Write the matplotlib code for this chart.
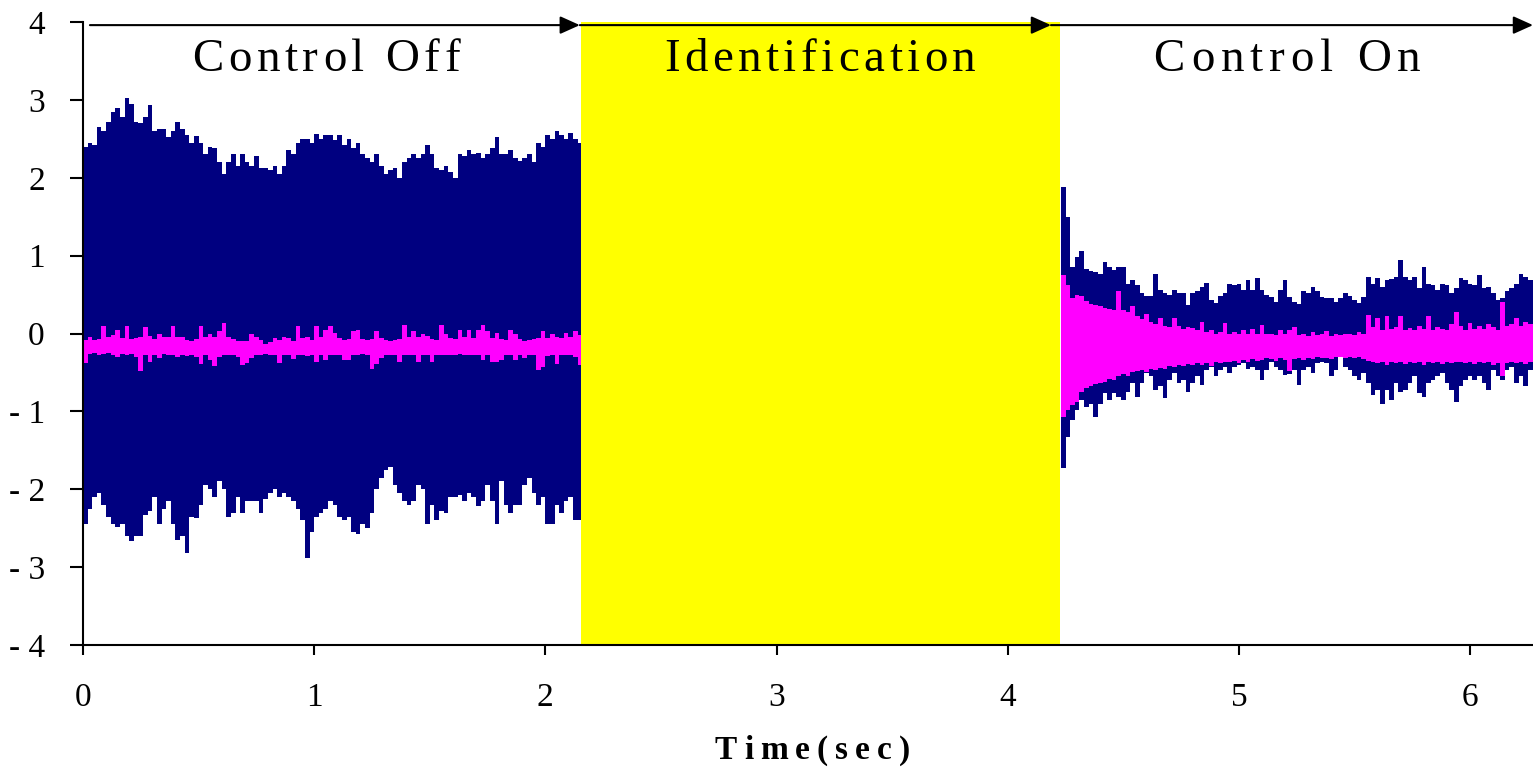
import numpy as np
import matplotlib
matplotlib.use("Agg")
import matplotlib.pyplot as plt
from matplotlib.font_manager import FontProperties, findfont, get_font

plt.rcParams['font.family'] = ['Liberation Serif', 'DejaVu Serif']

# ---------------- data ----------------
SECTION_LABELS = ["Control Off", "Identification", "Control On"]
X_LABEL = "Time(sec)"
X_TICKS = [0, 1, 2, 3, 4, 5, 6]
Y_TICKS = [-4, -3, -2, -1, 0, 1, 2, 3, 4]
Y_TICK_LABELS = ["- 4", "- 3", "- 2", "- 1", "0", "1", "2", "3", "4"]

ID_START = 2.154      # start of identification phase (s)
ID_END = 4.226        # end of identification phase (s)
T_END = 6.272         # end of record (s)
SAMPLE_STEP = 0.02    # envelope sampling interval (s)
OFF_START = 0.0
ON_START = 4.23

# Control-off phase envelopes (t = 0.00 ... 2.14)
blue_off_upper = [
    2.4, 2.45, 2.42, 2.65, 2.6, 2.72, 2.85, 2.9, 2.78, 3.03,
    2.95, 2.72, 2.7, 2.78, 2.93, 2.6, 2.63, 2.63, 2.52, 2.6,
    2.72, 2.62, 2.55, 2.45, 2.53, 2.45, 2.3, 2.4, 2.38, 2.2,
    2.05, 2.2, 2.3, 2.15, 2.3, 2.2, 2.15, 2.28, 2.12, 2.12,
    2.1, 2.15, 2.05, 2.15, 2.35, 2.3, 2.45, 2.5, 2.5, 2.45,
    2.56, 2.5, 2.55, 2.55,
    2.48, 2.55, 2.42, 2.5, 2.38, 2.45, 2.3, 2.25, 2.2, 2.3,
    2.15, 2.05, 2.1, 2.12, 2.0, 2.2, 2.25, 2.3, 2.25, 2.3,
    2.42, 2.3, 2.12, 2.1, 2.15, 2.08, 2.0, 2.3, 2.28, 2.35,
    2.3, 2.32, 2.25, 2.3, 2.38, 2.52, 2.3, 2.3, 2.35, 2.25,
    2.22, 2.25, 2.3, 2.2, 2.45, 2.4, 2.55, 2.5, 2.6, 2.55,
    2.5, 2.58, 2.5, 2.45]
blue_off_lower = [
    -2.45, -2.25, -2.1, -2.05, -2.2, -2.35, -2.45, -2.48, -2.45, -2.6,
    -2.67, -2.6, -2.6, -2.33, -2.28, -2.1, -2.45, -2.25, -2.15, -2.45,
    -2.65, -2.6, -2.82, -2.35, -2.37, -2.2, -1.95, -2.0, -2.1, -1.9,
    -2.0, -2.35, -2.3, -2.1, -2.3, -2.15, -2.15, -2.15, -2.3, -2.12,
    -2.05, -2.0, -2.1, -2.05, -2.1, -2.15, -2.25, -2.4, -2.88, -2.55,
    -2.35, -2.3, -2.25, -2.15,
    -2.2, -2.35, -2.4, -2.35, -2.55, -2.57, -2.45, -2.5, -2.3, -2.0,
    -1.85, -1.75, -1.72, -1.95, -2.05, -2.15, -2.2, -2.15, -1.95, -2.0,
    -2.45, -2.2, -2.4, -2.28, -2.3, -2.1, -2.1, -2.07, -2.15, -2.05,
    -2.1, -2.22, -2.15, -1.95, -2.15, -2.45, -1.9, -2.2, -2.3, -2.2,
    -2.2, -1.95, -1.85, -2.05, -2.2, -2.1, -2.45, -2.45, -2.2, -2.3,
    -2.15, -2.1, -2.4, -2.4]
pink_off_upper = [
    -0.08, -0.05, -0.08, -0.07, 0.09, -0.04, -0.02, 0.05, -0.06, 0.09,
    -0.07, -0.06, -0.05, 0.08, -0.03, -0.07, 0.0, -0.05, -0.04, 0.1,
    -0.05, -0.04, -0.08, -0.09, -0.07, 0.09, -0.04, 0.0, -0.05, 0.03,
    0.14, -0.04, -0.07, -0.09, -0.1, -0.09, 0.0, -0.05, -0.08, -0.13,
    -0.11, -0.06, -0.08, -0.04, -0.06, -0.09, 0.09, -0.06, -0.05, -0.08,
    0.09, -0.05, 0.05, 0.09,
    0.01, -0.06, -0.08, -0.07, 0.03, 0.05, -0.07, -0.08, -0.07, 0.03,
    -0.06, -0.08, -0.09, -0.08, -0.07, 0.11, -0.05, 0.03, -0.04, 0.0,
    -0.03, -0.07, -0.08, 0.11, 0.0, -0.06, -0.07, 0.05, -0.05, 0.05,
    -0.06, 0.05, 0.11, 0.03, -0.06, 0.01, -0.07, -0.08, 0.05, 0.0,
    -0.07, -0.09, -0.08, -0.07, -0.06, 0.03, -0.06, 0.0, -0.05, -0.06,
    0.01, -0.05, 0.03, -0.02]
pink_off_lower = [
    -0.38, -0.26, -0.25, -0.27, -0.26, -0.25, -0.27, -0.3, -0.26, -0.27,
    -0.26, -0.3, -0.48, -0.28, -0.36, -0.27, -0.32, -0.26, -0.27, -0.28,
    -0.3, -0.28, -0.29, -0.27, -0.3, -0.39, -0.28, -0.34, -0.42, -0.3,
    -0.27, -0.28, -0.27, -0.3, -0.4, -0.38, -0.32, -0.28, -0.27, -0.26,
    -0.28, -0.27, -0.38, -0.28, -0.27, -0.33, -0.28, -0.27, -0.29, -0.27,
    -0.36, -0.28, -0.34, -0.28,
    -0.27, -0.28, -0.34, -0.34, -0.28, -0.27, -0.26, -0.28, -0.45, -0.39,
    -0.32, -0.28, -0.27, -0.28, -0.36, -0.28, -0.27, -0.28, -0.36, -0.28,
    -0.27, -0.36, -0.28, -0.27, -0.28, -0.27, -0.28, -0.26, -0.27, -0.28,
    -0.27, -0.28, -0.34, -0.28, -0.37, -0.36, -0.34, -0.28, -0.27, -0.34,
    -0.28, -0.32, -0.27, -0.28, -0.47, -0.43, -0.29, -0.28, -0.39, -0.28,
    -0.27, -0.28, -0.3, -0.41]

# Control-on phase envelopes (t = 4.23 ... 6.25)
blue_on_upper = [
    1.88, 1.5, 0.85, 0.98, 1.06, 0.83, 0.8, 0.79, 0.77, 0.92,
    0.86, 0.82, 0.86, 0.86, 0.64, 0.69, 0.62, 0.52, 0.48, 0.48,
    0.77, 0.56, 0.52, 0.5, 0.56, 0.52, 0.52, 0.37, 0.52, 0.54,
    0.6, 0.65, 0.43, 0.39, 0.48, 0.52, 0.64, 0.62, 0.64, 0.56,
    0.69, 0.56, 0.71, 0.56, 0.5, 0.47, 0.4, 0.56, 0.69, 0.47,
    0.4, 0.38, 0.54, 0.52, 0.6, 0.54, 0.47, 0.45, 0.45, 0.4,
    0.45, 0.52, 0.48, 0.43, 0.39, 0.47, 0.73, 0.63, 0.71, 0.6,
    0.69, 0.7, 0.73, 0.95, 0.73, 0.69, 0.73, 0.58, 0.85, 0.64,
    0.62, 0.56, 0.64, 0.62, 0.52, 0.58, 0.71, 0.69, 0.64, 0.62,
    0.75, 0.58, 0.6, 0.52, 0.43, 0.46, 0.54, 0.58, 0.64, 0.77,
    0.73, 0.69]
blue_on_lower = [
    -1.73, -1.33, -1.11, -0.98, -0.86, -0.94, -0.9, -1.07, -0.9, -0.77,
    -0.86, -0.77, -0.81, -0.86, -0.75, -0.64, -0.81, -0.64, -0.51, -0.55,
    -0.73, -0.68, -0.83, -0.6, -0.51, -0.64, -0.6, -0.75, -0.64, -0.55,
    -0.66, -0.47, -0.43, -0.55, -0.47, -0.43, -0.51, -0.43, -0.41, -0.38,
    -0.45, -0.43, -0.47, -0.6, -0.47, -0.36, -0.43, -0.47, -0.53, -0.52,
    -0.47, -0.66, -0.47, -0.43, -0.51, -0.38, -0.36, -0.38, -0.55, -0.47,
    -0.3, -0.43, -0.47, -0.55, -0.6, -0.51, -0.64, -0.79, -0.73, -0.9,
    -0.73, -0.86, -0.64, -0.75, -0.73, -0.64, -0.55, -0.77, -0.81, -0.64,
    -0.6, -0.55, -0.51, -0.64, -0.73, -0.88, -0.68, -0.6, -0.55, -0.6,
    -0.55, -0.64, -0.73, -0.47, -0.55, -0.6, -0.47, -0.43, -0.64, -0.55,
    -0.68, -0.47]
pink_on_upper = [
    0.75, 0.62, 0.45, 0.5, 0.48, 0.42, 0.38, 0.36, 0.35, 0.33,
    0.32, 0.3, 0.54, 0.3, 0.27, 0.35, 0.22, 0.18, 0.25, 0.15,
    0.12, 0.2, 0.1, 0.08, 0.2, 0.1, 0.06, 0.08, 0.07, 0.05,
    0.15, 0.02, 0.04, 0.0, 0.02, 0.13, 0.0, 0.02, 0.0, 0.05,
    -0.01, 0.06, 0.0, 0.11, -0.01, 0.0, -0.02, 0.04, 0.0, 0.05,
    0.08, -0.02, 0.0, -0.03, 0.02, -0.02, 0.0, 0.03, -0.03, 0.0,
    -0.02, 0.0, 0.0, -0.02, 0.02, 0.0, 0.24, 0.08, 0.2, 0.05,
    0.22, 0.06, 0.08, 0.22, 0.05, 0.07, 0.04, 0.1, 0.06, 0.22,
    0.05, 0.08, 0.06, 0.04, 0.12, 0.28, 0.1, 0.05, 0.14, 0.06,
    0.1, 0.06, 0.12, 0.08, 0.04, 0.41, 0.1, 0.12, 0.2, 0.1,
    0.15, 0.12]
pink_on_lower = [
    -1.07, -0.98, -0.92, -0.88, -0.75, -0.7, -0.68, -0.65, -0.64, -0.62,
    -0.58, -0.6, -0.55, -0.52, -0.55, -0.5, -0.48, -0.47, -0.5, -0.45,
    -0.47, -0.44, -0.45, -0.42, -0.43, -0.4, -0.42, -0.39, -0.4, -0.38,
    -0.4, -0.38, -0.42, -0.37, -0.38, -0.36, -0.37, -0.35, -0.38, -0.34,
    -0.36, -0.33, -0.35, -0.34, -0.32, -0.33, -0.35, -0.32, -0.34, -0.48,
    -0.33, -0.32, -0.34, -0.31, -0.33, -0.3, -0.32, -0.31, -0.33, -0.3,
    -0.3, -0.31, -0.3, -0.32, -0.3, -0.33, -0.35, -0.37, -0.38, -0.36,
    -0.4, -0.37, -0.38, -0.36, -0.39, -0.37, -0.38, -0.36, -0.4, -0.37,
    -0.38, -0.36, -0.39, -0.37, -0.38, -0.36, -0.37, -0.38, -0.36, -0.39,
    -0.37, -0.38, -0.36, -0.4, -0.38, -0.55, -0.38, -0.36, -0.38, -0.36,
    -0.39, -0.37]

# ---------------- figure ----------------
W, H = 1533, 768
NAVY = '#000080'
PINK = '#FF00FF'
YELLOW = '#FFFF00'

fig = plt.figure(figsize=(W / 100, H / 100), dpi=100)
ax = fig.add_axes([83 / W, (H - 645) / H, (W - 83) / W, (645 - 22) / H])

ax.axvspan(ID_START, ID_END, color=YELLOW, lw=0, zorder=0)


def band(t0, t_end, upper, lower, color, z):
    n = len(upper)
    t = np.append(t0 + SAMPLE_STEP * np.arange(n), t_end)
    up = np.append(upper, upper[-1])
    lo = np.append(lower, lower[-1])
    ax.fill_between(t, lo, up, step='post', color=color, lw=0, zorder=z)


band(OFF_START, ID_START, blue_off_upper, blue_off_lower, NAVY, 1)
band(OFF_START, ID_START, pink_off_upper, pink_off_lower, PINK, 2)
band(ON_START, T_END, blue_on_upper, blue_on_lower, NAVY, 1)
band(ON_START, T_END, pink_on_upper, pink_on_lower, PINK, 2)

ax.set_xlim(0, T_END)
ax.set_ylim(-4, 4)
ax.set_xticks(X_TICKS)
ax.set_xticklabels([str(v) for v in X_TICKS])
ax.set_yticks(Y_TICKS)
ax.set_yticklabels(Y_TICK_LABELS)
ax.tick_params(axis='x', length=7.2, width=1.5, pad=20, labelsize=24, direction='out')
ax.tick_params(axis='y', length=9.5, width=1.5, pad=18, labelsize=24, direction='out')
for s in ['top', 'right']:
    ax.spines[s].set_visible(False)
for s in ['left', 'bottom']:
    ax.spines[s].set_linewidth(1.5)
    ax.spines[s].set_zorder(5)

# phase arrows along the top
arrow_kw = dict(arrowstyle='-|>,head_length=0.6,head_width=0.27', mutation_scale=20,
                lw=1.5, color='black', shrinkA=0, shrinkB=0)
for a, b in [(0.03, 2.149), (2.149, 4.187), (4.187, T_END)]:
    ax.annotate('', xy=(b, 3.96), xytext=(a, 3.96), arrowprops=arrow_kw,
                annotation_clip=False, zorder=6)


def spaced_text(x_px, y_px, s, size, spacing, weight='normal'):
    prop = FontProperties(family='Liberation Serif', size=size, weight=weight)
    font = get_font(findfont(prop))
    font.set_size(size, 100)
    advs = [font.load_char(ord(ch)).linearHoriAdvance / 65536 for ch in s]
    total = sum(advs) + spacing * (len(s) - 1)
    x = x_px - total / 2
    for ch, adv in zip(s, advs):
        if ch != ' ':
            fig.text(x / W, 1 - y_px / H, ch, fontproperties=prop,
                     ha='left', va='baseline', color='black')
        x += adv + spacing


spaced_text(326, 71, SECTION_LABELS[0], 33.8, 4.7)
spaced_text(820, 71, SECTION_LABELS[1], 33.8, 4.5)
spaced_text(1287, 71, SECTION_LABELS[2], 33.8, 6.0)
spaced_text(812, 759, X_LABEL, 24, 7.0, weight='bold')

fig.savefig('out.png', dpi=100)
